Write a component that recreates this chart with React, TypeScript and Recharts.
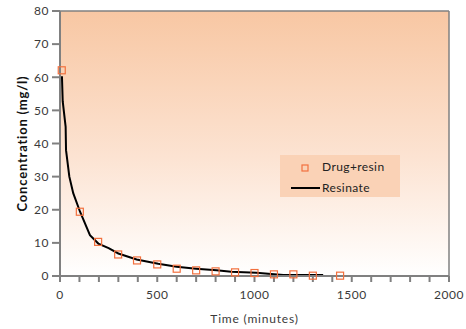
import {
  ComposedChart,
  Line,
  Scatter,
  XAxis,
  YAxis,
  CartesianGrid,
  ReferenceLine,
} from "recharts";

// measured points (Drug+resin)
const drugTime = [9, 102, 196, 299, 396, 500, 600, 700, 800, 900, 1000, 1100, 1200, 1300, 1440];
const drugConc = [62.1, 19.4, 10.3, 6.5, 4.7, 3.5, 2.2, 1.7, 1.4, 1.1, 0.9, 0.5, 0.5, 0.1, 0.1];

// fitted curve (Resinate)
const resTime = [10, 14, 29, 31, 48, 68, 103, 154, 197, 250, 300, 394, 505, 600, 700, 805, 880, 1010, 1070, 1148, 1250, 1353];
const resConc = [60.3, 52.7, 45, 38, 30, 25, 19.4, 12.3, 9.8, 8.4, 6.8, 5.0, 3.7, 2.8, 2.2, 1.7, 1.3, 1.0, 0.7, 0.3, 0.3, 0.3];

const xTicks = [0, 100, 200, 300, 400, 500, 600, 700, 800, 900, 1000, 1100, 1200, 1300, 1400, 1500, 1600, 1700, 1800, 1900, 2000];
const yTicks = [0, 10, 20, 30, 40, 50, 60, 70, 80];

const drugData = drugTime.map((t, i) => ({ t, c: drugConc[i] }));
const resData = resTime.map((t, i) => ({ t, c: resConc[i] }));

const FONT = "Lato, 'DejaVu Sans', sans-serif";
const AXIS = "#808080";
const TXT = "#3a3a3a";

const SquareDot = (props: any) => {
  const { cx, cy } = props;
  if (cx == null || cy == null) return null;
  return (
    <rect x={cx - 3.5} y={cy - 3.5} width={7} height={7} fill="none" stroke="#F2703E" strokeWidth={1.2} />
  );
};

const LegendBox = () => (
  <div
    style={{
      background: "#FAD2B6",
      width: 120,
      height: 42,
      fontFamily: FONT,
      fontSize: 12,
      letterSpacing: 0.4,
      color: "#222",
      position: "absolute",
      left: 280,
      top: 155,
    }}
  >
    <svg width={120} height={42} style={{ position: "absolute", left: 0, top: 0 }}>
      <rect x={22} y={10} width={6} height={6} fill="none" stroke="#F2703E" strokeWidth={1.2} />
      <line x1={11} y1={33} x2={40} y2={33} stroke="#000" strokeWidth={2} />
    </svg>
    <div style={{ position: "absolute", left: 42, top: 4 }}>Drug+resin</div>
    <div style={{ position: "absolute", left: 42, top: 25 }}>Resinate</div>
  </div>
);

export default function App() {
  return (
    <div style={{ position: "absolute", left: 0, top: 0, width: 466, height: 329, background: "#fff" }}>
      <ComposedChart width={466} height={329} margin={{ top: 11, right: 17, bottom: 0, left: 0 }}>
        <defs>
          <linearGradient id="bg" x1="0" y1="0" x2="0" y2="1">
            <stop offset="0%" stopColor="#F8C7A3" />
            <stop offset="55%" stopColor="#FCE3D2" />
            <stop offset="100%" stopColor="#FFFFFF" />
          </linearGradient>
        </defs>
        <CartesianGrid fill="url(#bg)" horizontal={false} vertical={false} />
        <XAxis
          dataKey="t"
          type="number"
          domain={[0, 2000]}
          ticks={xTicks}
          interval={0}
          height={53}
          tickSize={6}
          tickMargin={8}
          stroke={AXIS}
          strokeWidth={2}
          tick={{ fill: TXT, fontSize: 12, fontFamily: FONT, letterSpacing: 0.5 }}
          tickFormatter={(v: number) => (v % 500 === 0 ? String(v) : "")}
          label={{
            value: "Time (minutes)",
            position: "insideBottom",
            offset: 6,
            style: { fill: TXT, fontSize: 12, fontFamily: FONT, letterSpacing: 0.8 },
          }}
        />
        <YAxis
          dataKey="c"
          type="number"
          domain={[0, 80]}
          ticks={yTicks}
          interval={0}
          width={60}
          tickSize={8}
          tickMargin={3}
          stroke={AXIS}
          strokeWidth={2}
          tick={{ fill: TXT, fontSize: 12, fontFamily: FONT, letterSpacing: 0.5 }}
          label={{
            value: "Concentration (mg/l)",
            angle: -90,
            position: "insideLeft",
            offset: 22,
            style: { textAnchor: "middle", fontWeight: "bold", fill: "#111", fontSize: 13, letterSpacing: 0.8, fontFamily: FONT },
          }}
        />
        <ReferenceLine y={80} stroke={AXIS} strokeWidth={1.5} ifOverflow="visible" />
        <ReferenceLine x={2000} stroke={AXIS} strokeWidth={1.5} ifOverflow="visible" />
        <Line
          data={resData}
          dataKey="c"
          type="linear"
          stroke="#000"
          strokeWidth={2}
          dot={false}
          activeDot={false}
          isAnimationActive={false}
          name="Resinate"
        />
        <Scatter data={drugData} dataKey="c" shape={<SquareDot />} isAnimationActive={false} name="Drug+resin" />
      </ComposedChart>
      <LegendBox />
    </div>
  );
}
